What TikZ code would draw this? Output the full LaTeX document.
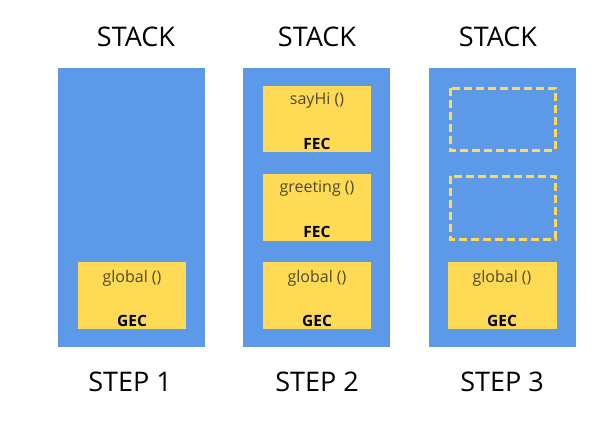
\documentclass[tikz,border=0pt]{standalone}
\usepackage{fontspec}
\setmainfont{Open Sans}
\definecolor{stackblue}{HTML}{5C9AE9}
\definecolor{frameyellow}{HTML}{FFDA55}
\definecolor{labelgrey}{HTML}{4F4A2E}
\begin{document}
\begin{tikzpicture}[x=1pt,y=-1pt,
  stackbox/.style={fill=stackblue,draw=none},
  framebox/.style={fill=frameyellow,draw=none},
  ghostbox/.style={draw=frameyellow,line width=3pt,dash pattern=on 8pt off 4pt},
  title/.style={font=\fontsize{27}{30}\selectfont,anchor=base},
  fname/.style={font=\fontsize{16}{18}\selectfont,text=labelgrey,anchor=base},
  ctx/.style={font=\fontsize{15.5}{18}\selectfont\bfseries,anchor=base}]
\useasboundingbox (0,0) rectangle (615,421);
% stacks
\fill[stackblue] (58,68) rectangle (205,347);
\fill[stackblue] (243,68) rectangle (390,347);
\fill[stackblue] (429,68) rectangle (576,347);
% titles
\node[title] (t1) at (136,46) {STACK};
\node[title] (t2) at (317,46) {STACK};
\node[title] (t3) at (498,46) {STACK};
\node[title] (s1) at (130,391) {STEP 1};
\node[title] (s2) at (317,391) {STEP 2};
\node[title] (s3) at (502,391) {STEP 3};
% step 1
\fill[frameyellow] (78,262) rectangle (186,329);
\node[fname] (g1) at (132,282) {global ()};
\node[ctx] (e1) at (132,326) {GEC};
% step 2
\fill[frameyellow] (263,86) rectangle (371,152);
\node[fname] (f2a) at (317,104) {sayHi ()};
\node[ctx] (e2a) at (317,149) {FEC};
\fill[frameyellow] (263,174) rectangle (371,241);
\node[fname] (f2b) at (317,192) {greeting ()};
\node[ctx] (e2b) at (317,237) {FEC};
\fill[frameyellow] (263,262) rectangle (371,329);
\node[fname] (g2) at (317,282) {global ()};
\node[ctx] (e2) at (317,326) {GEC};
% step 3
\draw[ghostbox] (450,88) rectangle (555,150);
\draw[ghostbox] (450,176) rectangle (555,239);
\fill[frameyellow] (448,262) rectangle (557,329);
\node[fname] (g3) at (502,282) {global ()};
\node[ctx] (e3) at (502,326) {GEC};
\end{tikzpicture}
\end{document}
